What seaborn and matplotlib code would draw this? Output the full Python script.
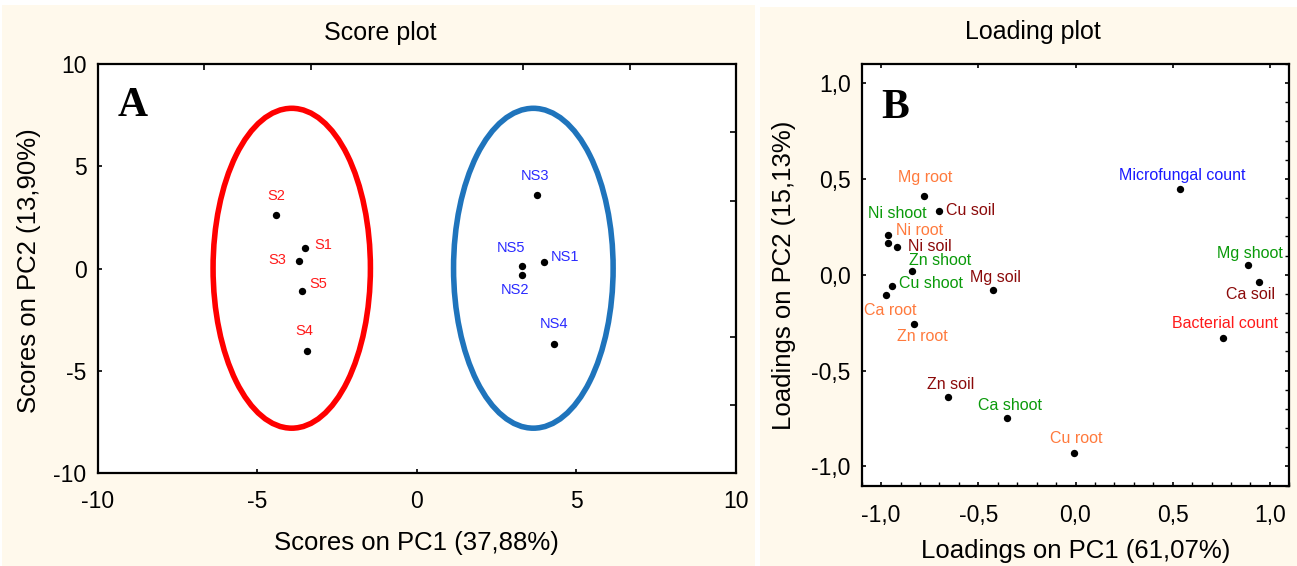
import matplotlib
matplotlib.use("Agg")
import matplotlib.pyplot as plt
from matplotlib.patches import Ellipse, Rectangle
from matplotlib.ticker import FixedLocator, FuncFormatter, MultipleLocator
import pandas as pd
import seaborn as sns

sns.set_style("ticks")
plt.rcParams["font.family"] = ["Liberation Sans", "DejaVu Sans"]
plt.rcParams["axes.unicode_minus"] = False
for key in ("text.color", "axes.labelcolor", "xtick.color", "ytick.color",
            "xtick.labelcolor", "ytick.labelcolor"):
    plt.rcParams[key] = "black"

# ---- Score plot: samples on PC1 / PC2 ----
sample_names = ["S1", "S2", "S3", "S4", "S5", "NS1", "NS2", "NS3", "NS4", "NS5"]
sample_group = ["S", "S", "S", "S", "S", "NS", "NS", "NS", "NS", "NS"]
score_pc1 = [-3.49, -4.40, -3.68, -3.45, -3.61, 3.97, 3.29, 3.76, 4.30, 3.31]
score_pc2 = [1.00, 2.61, 0.39, -4.00, -1.07, 0.34, -0.32, 3.60, -3.68, 0.13]

# group ellipses
ellipse_groups = ["S", "NS"]
ellipse_center_pc1 = [-3.92, 3.65]
ellipse_center_pc2 = [0.02, 0.02]
ellipse_width = [4.93, 5.00]
ellipse_height = [15.63, 15.63]

score_ticks = [-10, -5, 0, 5, 10]

# ---- Loading plot: variables on PC1 / PC2 ----
loading_vars = ["Mg root", "Cu soil", "Ni shoot", "Ni root", "Ni soil", "Zn shoot",
                "Cu shoot", "Ca root", "Mg soil", "Zn root", "Zn soil", "Ca shoot",
                "Cu root", "Microfungal count", "Mg shoot", "Ca soil", "Bacterial count"]
loading_type = ["root", "soil", "shoot", "root", "soil", "shoot",
                "shoot", "root", "soil", "root", "soil", "shoot",
                "root", "fungi", "shoot", "soil", "bacteria"]
loading_pc1 = [-0.78, -0.70, -0.965, -0.965, -0.92, -0.84,
               -0.945, -0.975, -0.425, -0.83, -0.655, -0.35,
               -0.01, 0.54, 0.885, 0.945, 0.76]
loading_pc2 = [0.41, 0.335, 0.21, 0.165, 0.145, 0.02,
               -0.06, -0.105, -0.08, -0.255, -0.64, -0.75,
               -0.93, 0.445, 0.05, -0.04, -0.33]

loading_ticks = [-1.0, -0.5, 0.0, 0.5, 1.0]

# ---- styling ----
cream = "#FFF9EC"
group_colors = {"S": "#FF1A1A", "NS": "#2A2AFF"}
ellipse_colors = {"S": "#FF0000", "NS": "#1F74BC"}
type_colors = {"root": "#FF7A3D", "soil": "#8B0A0A", "shoot": "#0A9A0A",
               "fungi": "#1A1AFF", "bacteria": "#FF1A1A"}

# label offsets in pixels (dx, dy, horizontal alignment)
score_label_pos = {
    "S1": (9, 3, "left"), "S2": (0, 19, "center"), "S3": (-13, 1, "right"),
    "S4": (-2, 20, "center"), "S5": (8, 7, "left"), "NS1": (7, 5, "left"),
    "NS2": (-7, -15, "center"), "NS3": (-2, 19, "center"),
    "NS4": (0, 20, "center"), "NS5": (-11, 18, "center"),
}
loading_label_pos = {
    "Mg root": (1, 19, "center"), "Cu soil": (7, 0, "left"),
    "Ni shoot": (9, 21, "center"), "Ni root": (8, 13, "left"),
    "Ni soil": (11, 0, "left"), "Zn shoot": (-3, 10, "left"),
    "Cu shoot": (7, 3, "left"), "Ca root": (-22, -16, "left"),
    "Mg soil": (-23, 13, "left"), "Zn root": (8, -13, "center"),
    "Zn soil": (2, 13, "center"), "Ca shoot": (3, 13, "center"),
    "Cu root": (3, 14, "center"), "Microfungal count": (2, 14, "center"),
    "Mg shoot": (2, 12, "center"), "Ca soil": (-9, -12, "center"),
    "Bacterial count": (2, 14, "center"),
}

scores = pd.DataFrame({"name": sample_names, "group": sample_group,
                       "PC1": score_pc1, "PC2": score_pc2})
loadings = pd.DataFrame({"var": loading_vars, "type": loading_type,
                         "PC1": loading_pc1, "PC2": loading_pc2})

W, H = 1297, 566
fig = plt.figure(figsize=(W / 100, H / 100), dpi=100, facecolor="white")

# panel backgrounds
fig.patches.append(Rectangle((2 / W, 0), 753 / W, 1 - 5 / H, transform=fig.transFigure,
                             facecolor=cream, edgecolor="none", zorder=-10))
fig.patches.append(Rectangle((760 / W, 0), 537 / W, 1 - 7 / H, transform=fig.transFigure,
                             facecolor=cream, edgecolor="none", zorder=-10))

ax1 = fig.add_axes([97.7 / W, 1 - 473.3 / H, (736 - 97.7) / W, (473.3 - 64) / H])
ax2 = fig.add_axes([861.7 / W, 1 - 485.5 / H, (1289.3 - 861.7) / W, (485.5 - 64) / H])

for ax in (ax1, ax2):
    ax.set_facecolor("white")
    for sp in ax.spines.values():
        sp.set_visible(True)
        sp.set_linewidth(1.6)
        sp.set_color("black")

# ---- Score plot ----
for g, cx, cy, w, h in zip(ellipse_groups, ellipse_center_pc1, ellipse_center_pc2,
                           ellipse_width, ellipse_height):
    ax1.add_patch(Ellipse((cx, cy), w, h, fill=False, edgecolor=ellipse_colors[g],
                          linewidth=4, zorder=2))

sns.scatterplot(data=scores, x="PC1", y="PC2", ax=ax1, color="black", s=28,
                linewidth=0, legend=False, zorder=3)
for _, r in scores.iterrows():
    dx, dy, ha = score_label_pos[r["name"]]
    ax1.annotate(r["name"], (r["PC1"], r["PC2"]), xytext=(dx, dy),
                 textcoords="offset pixels", ha=ha, va="center", fontsize=10.5,
                 color=group_colors[r["group"]], zorder=4)

ax1.set_xlim(-10, 10)
ax1.set_ylim(-10, 10)
ax1.set_xticks(score_ticks)
ax1.set_yticks(score_ticks)
ax1.set_xticklabels([str(t) for t in score_ticks])
ax1.set_yticklabels([str(t) for t in score_ticks])
ax1.xaxis.set_minor_locator(FixedLocator([-6.67, -3.33, 0, 3.33, 6.67]))
ax1.yaxis.set_minor_locator(FixedLocator([-6.67, -3.33, 0, 3.33, 6.67]))
ax1.tick_params(which="major", direction="in", length=3, width=1.2,
                labelsize=16.5, top=False, right=False, pad=8, color="black")
ax1.tick_params(which="minor", direction="in", length=4, width=1.2,
                bottom=False, left=False, top=True, right=True)
ax1.tick_params(axis="x", which="major", pad=12)
ax1.set_xlabel("Scores on PC1 (37,88%)", fontsize=18.5)
ax1.set_ylabel("Scores on PC2 (13,90%)", fontsize=18.5)
ax1.xaxis.label.set_va("center")
ax1.yaxis.label.set_va("center")
ax1.xaxis.set_label_coords(0.50, -0.170)
ax1.yaxis.set_label_coords(-0.1076, 0.494)

# ---- Loading plot ----
sns.scatterplot(data=loadings, x="PC1", y="PC2", ax=ax2, color="black", s=28,
                linewidth=0, legend=False, zorder=3)
for _, r in loadings.iterrows():
    dx, dy, ha = loading_label_pos[r["var"]]
    ax2.annotate(r["var"], (r["PC1"], r["PC2"]), xytext=(dx, dy),
                 textcoords="offset pixels", ha=ha, va="center", fontsize=11.5,
                 color=type_colors[r["type"]], zorder=4)

comma = FuncFormatter(lambda v, p: f"{v:.1f}".replace(".", ","))
ax2.set_xlim(-1.1, 1.1)
ax2.set_ylim(-1.1, 1.1)
ax2.set_xticks(loading_ticks)
ax2.set_yticks(loading_ticks)
ax2.xaxis.set_major_formatter(comma)
ax2.yaxis.set_major_formatter(comma)
ax2.yaxis.set_minor_locator(MultipleLocator(0.1))
ax2.xaxis.set_minor_locator(MultipleLocator(0.1))
ax2.tick_params(which="major", direction="in", length=3, width=1.2,
                labelsize=16.5, top=True, right=True, pad=8, color="black")
ax2.tick_params(which="minor", direction="in", length=3, width=1.0,
                bottom=True, left=False, top=False, right=True)
ax2.tick_params(axis="x", which="major", pad=13)
ax2.set_xlabel("Loadings on PC1 (61,07%)", fontsize=18.5)
ax2.set_ylabel("Loadings on PC2 (15,13%)", fontsize=18.5)
ax2.xaxis.label.set_va("center")
ax2.yaxis.label.set_va("center")
ax2.xaxis.set_label_coords(0.50, -0.155)
ax2.yaxis.set_label_coords(-0.182, 0.4975)

# panel titles and letters
fig.text(380.5 / W, 1 - 33 / H, "Score plot", ha="center", va="center", fontsize=18)
fig.text(1033 / W, 1 - 32 / H, "Loading plot", ha="center", va="center", fontsize=18)
fig.text(118 / W, 1 - 116 / H, "A", ha="left", va="baseline", fontsize=30,
         fontweight="bold", family=["Liberation Serif", "DejaVu Serif"])
fig.text(881 / W, 1 - 118 / H, "B", ha="left", va="baseline", fontsize=30,
         fontweight="bold", family=["Liberation Serif", "DejaVu Serif"])

fig.savefig("out.png", dpi=100, facecolor="white")
